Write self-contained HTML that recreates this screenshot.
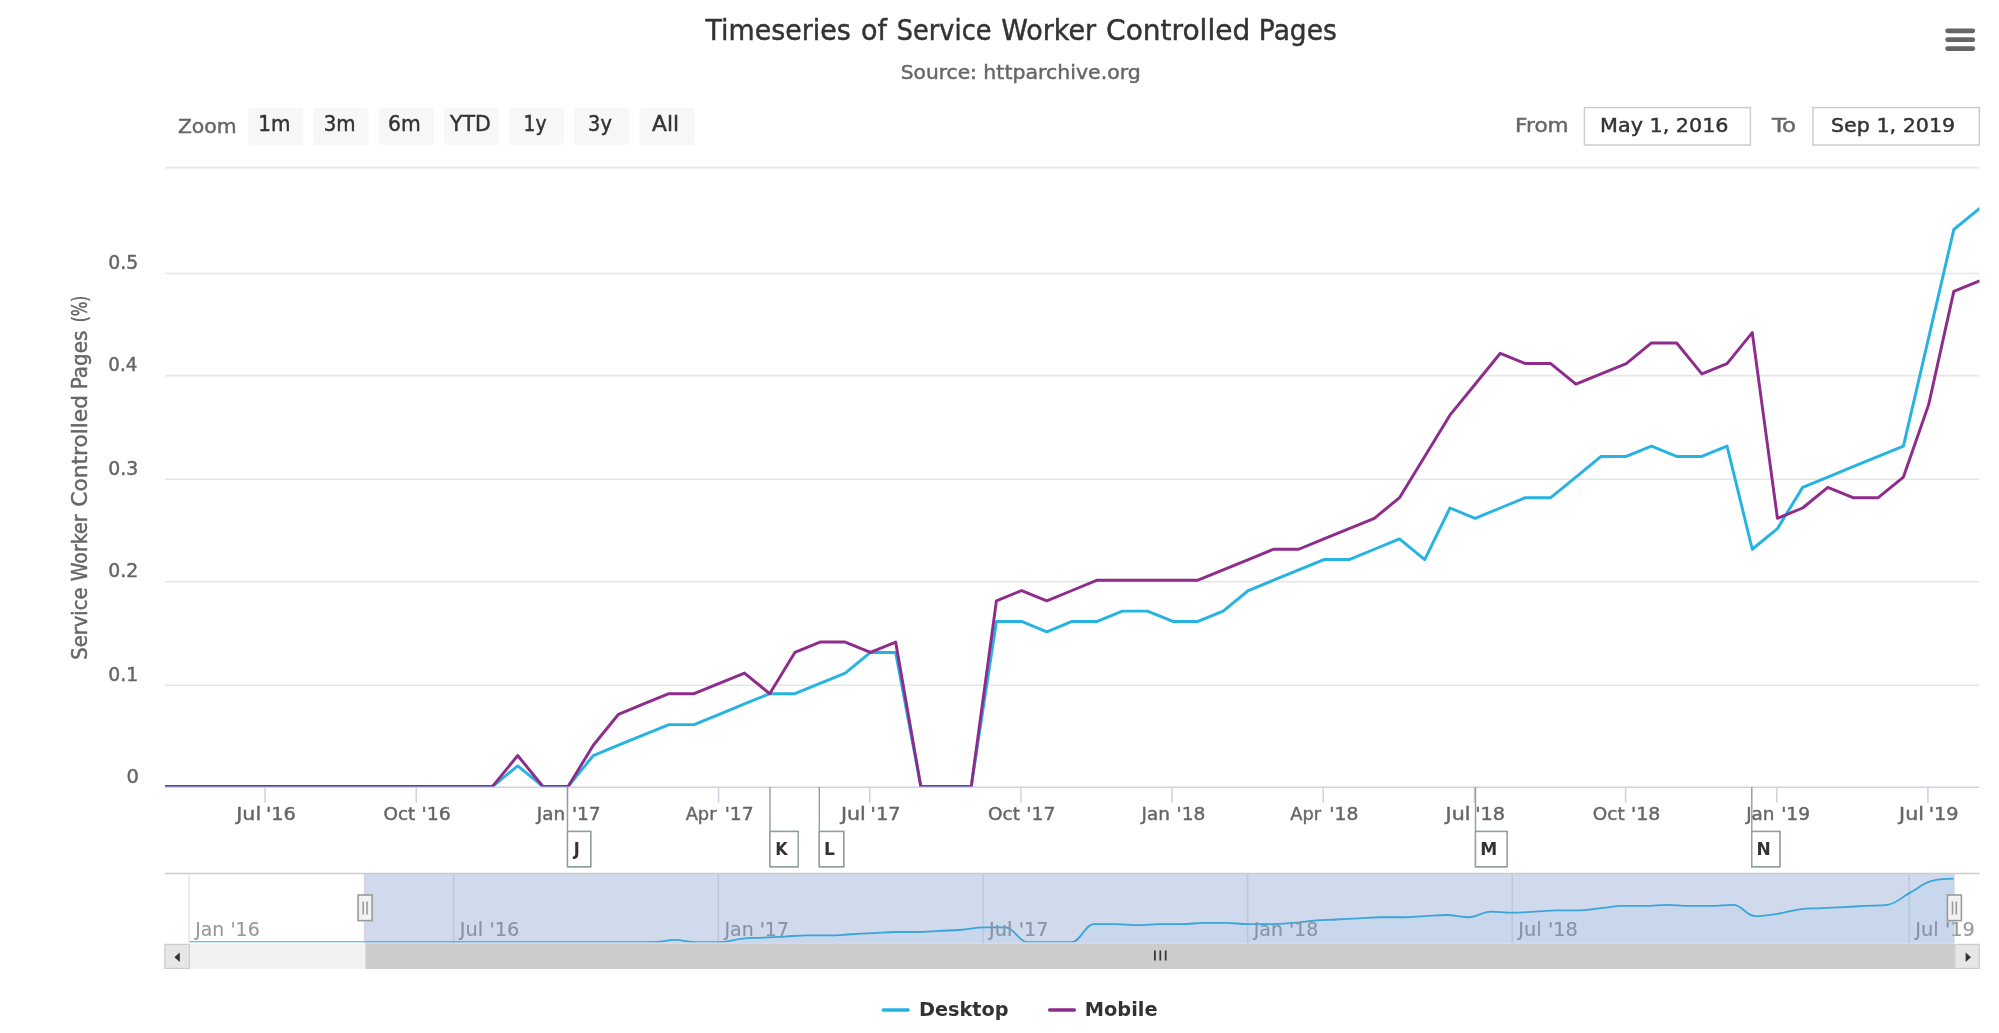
<!DOCTYPE html>
<html lang="en"><head><meta charset="utf-8"><title>Timeseries of Service Worker Controlled Pages</title>
<style>html,body{margin:0;padding:0;background:#fff}body{width:1999px;height:1033px;overflow:hidden}text{white-space:pre}svg{will-change:transform}</style>
</head><body>
<svg width="1999" height="1033" viewBox="0 0 1999 1033" style="display:block;font-family:'DejaVu Sans','Liberation Sans',sans-serif">
<rect x="0" y="0" width="1999" height="1033" fill="#fff"/>
<rect x="248.3" y="107.9" width="55" height="37.2" rx="3" ry="3" fill="#f7f7f7"/>
<rect x="313.5" y="107.9" width="55" height="37.2" rx="3" ry="3" fill="#f7f7f7"/>
<rect x="378.7" y="107.9" width="55" height="37.2" rx="3" ry="3" fill="#f7f7f7"/>
<rect x="443.9" y="107.9" width="55" height="37.2" rx="3" ry="3" fill="#f7f7f7"/>
<rect x="509.1" y="107.9" width="55" height="37.2" rx="3" ry="3" fill="#f7f7f7"/>
<rect x="574.3" y="107.9" width="55" height="37.2" rx="3" ry="3" fill="#f7f7f7"/>
<rect x="639.5" y="107.9" width="55" height="37.2" rx="3" ry="3" fill="#f7f7f7"/>
<rect x="1584.4" y="107.6" width="166" height="37.4" fill="#fff" stroke="#ccc" stroke-width="1.5"/>
<rect x="1812.9" y="107.6" width="166.4" height="37.4" fill="#fff" stroke="#ccc" stroke-width="1.5"/>
<line x1="1947.6" y1="30.8" x2="1972.8" y2="30.8" stroke="#666" stroke-width="4.7" stroke-linecap="round"/>
<line x1="1947.6" y1="39.7" x2="1972.8" y2="39.7" stroke="#666" stroke-width="4.7" stroke-linecap="round"/>
<line x1="1947.6" y1="48.6" x2="1972.8" y2="48.6" stroke="#666" stroke-width="4.7" stroke-linecap="round"/>
<line x1="165.0" y1="167.6" x2="1979.3" y2="167.6" stroke="#e6e6e6" stroke-width="1.55"/>
<line x1="165.0" y1="273.55" x2="1979.3" y2="273.55" stroke="#e6e6e6" stroke-width="1.55"/>
<line x1="165.0" y1="375.6" x2="1979.3" y2="375.6" stroke="#e6e6e6" stroke-width="1.55"/>
<line x1="165.0" y1="479.3" x2="1979.3" y2="479.3" stroke="#e6e6e6" stroke-width="1.55"/>
<line x1="165.0" y1="581.7" x2="1979.3" y2="581.7" stroke="#e6e6e6" stroke-width="1.55"/>
<line x1="165.0" y1="685.3" x2="1979.3" y2="685.3" stroke="#e6e6e6" stroke-width="1.55"/>
<line x1="165.0" y1="787.2" x2="1979.3" y2="787.2" stroke="#cdd3e0" stroke-width="1.55"/>
<line x1="265.08" y1="787" x2="265.08" y2="802.8" stroke="#cdd3e0" stroke-width="1.55"/>
<line x1="416.24" y1="787" x2="416.24" y2="802.8" stroke="#cdd3e0" stroke-width="1.55"/>
<line x1="567.41" y1="787" x2="567.41" y2="802.8" stroke="#cdd3e0" stroke-width="1.55"/>
<line x1="718.58" y1="787" x2="718.58" y2="802.8" stroke="#cdd3e0" stroke-width="1.55"/>
<line x1="869.74" y1="787" x2="869.74" y2="802.8" stroke="#cdd3e0" stroke-width="1.55"/>
<line x1="1020.91" y1="787" x2="1020.91" y2="802.8" stroke="#cdd3e0" stroke-width="1.55"/>
<line x1="1172.08" y1="787" x2="1172.08" y2="802.8" stroke="#cdd3e0" stroke-width="1.55"/>
<line x1="1323.24" y1="787" x2="1323.24" y2="802.8" stroke="#cdd3e0" stroke-width="1.55"/>
<line x1="1474.41" y1="787" x2="1474.41" y2="802.8" stroke="#cdd3e0" stroke-width="1.55"/>
<line x1="1625.58" y1="787" x2="1625.58" y2="802.8" stroke="#cdd3e0" stroke-width="1.55"/>
<line x1="1776.74" y1="787" x2="1776.74" y2="802.8" stroke="#cdd3e0" stroke-width="1.55"/>
<line x1="1927.91" y1="787" x2="1927.91" y2="802.8" stroke="#cdd3e0" stroke-width="1.55"/>
<path d="M567.5 787 V831.5 M567.5 831.5 H590.7 V866.7 H567.5 Z" fill="none" stroke="#8f9da5" stroke-width="1.4"/>
<rect x="567.5" y="831.5" width="23.2" height="35.2" fill="#fff" stroke="#8f9da5" stroke-width="1.4"/>
<path d="M770.0 787 V831.5 M770.0 831.5 H798.2 V866.7 H770.0 Z" fill="none" stroke="#8f9da5" stroke-width="1.4"/>
<rect x="770.0" y="831.5" width="28.2" height="35.2" fill="#fff" stroke="#8f9da5" stroke-width="1.4"/>
<path d="M819.3 787 V831.5 M819.3 831.5 H843.7 V866.7 H819.3 Z" fill="none" stroke="#8f9da5" stroke-width="1.4"/>
<rect x="819.3" y="831.5" width="24.4" height="35.2" fill="#fff" stroke="#8f9da5" stroke-width="1.4"/>
<path d="M1475.5 787 V831.5 M1475.5 831.5 H1507.1 V866.7 H1475.5 Z" fill="none" stroke="#8f9da5" stroke-width="1.4"/>
<rect x="1475.5" y="831.5" width="31.6" height="35.2" fill="#fff" stroke="#8f9da5" stroke-width="1.4"/>
<path d="M1751.8 787 V831.5 M1751.8 831.5 H1779.9 V866.7 H1751.8 Z" fill="none" stroke="#8f9da5" stroke-width="1.4"/>
<rect x="1751.8" y="831.5" width="28.1" height="35.2" fill="#fff" stroke="#8f9da5" stroke-width="1.4"/>
<clipPath id="pc"><rect x="165.0" y="160" width="1814.5" height="626.5"/></clipPath>
<g clip-path="url(#pc)" fill="none" stroke-width="2.95" stroke-linejoin="round" stroke-linecap="round">
<path d="M165.00 786.50 L190.19 786.50 L215.39 786.50 L240.58 786.50 L265.78 786.50 L290.97 786.50 L316.17 786.50 L341.36 786.50 L366.56 786.50 L391.75 786.50 L416.94 786.50 L442.14 786.50 L467.33 786.50 L492.53 786.50 L517.72 765.87 L542.92 786.50 L568.11 786.50 L593.31 755.55 L618.50 745.24 L643.69 734.92 L668.89 724.61 L694.08 724.61 L719.28 714.29 L744.47 703.98 L769.67 693.66 L794.86 693.66 L820.06 683.35 L845.25 673.03 L870.44 652.40 L895.64 652.40 L920.83 786.50 L946.03 786.50 L971.22 786.50 L996.42 621.46 L1021.61 621.46 L1046.81 631.77 L1072.00 621.46 L1097.19 621.46 L1122.39 611.14 L1147.58 611.14 L1172.78 621.46 L1197.97 621.46 L1223.17 611.14 L1248.36 590.51 L1273.56 580.20 L1298.75 569.88 L1323.94 559.57 L1349.14 559.57 L1374.33 549.25 L1399.53 538.94 L1424.72 559.57 L1449.92 508.00 L1475.11 518.31 L1500.31 508.00 L1525.50 497.68 L1550.69 497.68 L1575.89 477.05 L1601.08 456.42 L1626.28 456.42 L1651.47 446.10 L1676.67 456.42 L1701.86 456.42 L1727.06 446.10 L1752.25 549.25 L1777.44 528.62 L1802.64 487.37 L1827.83 477.05 L1853.03 466.74 L1878.22 456.42 L1903.42 446.10 L1928.61 337.80 L1953.81 229.49 L1979.00 208.86" stroke="#27b3e2"/>
<path d="M165.00 786.50 L190.19 786.50 L215.39 786.50 L240.58 786.50 L265.78 786.50 L290.97 786.50 L316.17 786.50 L341.36 786.50 L366.56 786.50 L391.75 786.50 L416.94 786.50 L442.14 786.50 L467.33 786.50 L492.53 786.50 L517.72 755.55 L542.92 786.50 L568.11 786.50 L593.31 745.24 L618.50 714.29 L643.69 703.98 L668.89 693.66 L694.08 693.66 L719.28 683.35 L744.47 673.03 L769.67 693.66 L794.86 652.40 L820.06 642.09 L845.25 642.09 L870.44 652.40 L895.64 642.09 L920.83 786.50 L946.03 786.50 L971.22 786.50 L996.42 600.83 L1021.61 590.51 L1046.81 600.83 L1072.00 590.51 L1097.19 580.20 L1122.39 580.20 L1147.58 580.20 L1172.78 580.20 L1197.97 580.20 L1223.17 569.88 L1248.36 559.57 L1273.56 549.25 L1298.75 549.25 L1323.94 538.94 L1349.14 528.62 L1374.33 518.31 L1399.53 497.68 L1424.72 456.42 L1449.92 415.16 L1475.11 384.21 L1500.31 353.27 L1525.50 363.59 L1550.69 363.59 L1575.89 384.21 L1601.08 373.90 L1626.28 363.59 L1651.47 342.95 L1676.67 342.95 L1701.86 373.90 L1727.06 363.59 L1752.25 332.64 L1777.44 518.31 L1802.64 508.00 L1827.83 487.37 L1853.03 497.68 L1878.22 497.68 L1903.42 477.05 L1928.61 404.85 L1953.81 291.38 L1979.00 281.06" stroke="#8e2c8c"/>
</g>
<line x1="189.10" y1="873.4" x2="189.10" y2="943.2" stroke="#e6e6e6" stroke-width="1.55"/>
<line x1="453.73" y1="873.4" x2="453.73" y2="943.2" stroke="#e6e6e6" stroke-width="1.55"/>
<line x1="718.36" y1="873.4" x2="718.36" y2="943.2" stroke="#e6e6e6" stroke-width="1.55"/>
<line x1="982.99" y1="873.4" x2="982.99" y2="943.2" stroke="#e6e6e6" stroke-width="1.55"/>
<line x1="1247.62" y1="873.4" x2="1247.62" y2="943.2" stroke="#e6e6e6" stroke-width="1.55"/>
<line x1="1512.25" y1="873.4" x2="1512.25" y2="943.2" stroke="#e6e6e6" stroke-width="1.55"/>
<line x1="1909.20" y1="873.4" x2="1909.20" y2="943.2" stroke="#e6e6e6" stroke-width="1.55"/>
<path d="M189.60 942.20 C189.60 942.20 202.83 942.20 211.65 942.20 C220.47 942.20 224.88 942.20 233.70 942.20 C242.53 942.20 246.94 942.20 255.76 942.20 C264.58 942.20 268.99 942.20 277.81 942.20 C286.63 942.20 291.04 942.20 299.86 942.20 C308.68 942.20 313.09 942.20 321.91 942.20 C330.74 942.20 335.15 942.20 343.97 942.20 C352.79 942.20 357.20 942.20 366.02 942.20 C374.84 942.20 379.25 942.20 388.07 942.20 C396.89 942.20 401.30 942.20 410.12 942.20 C418.95 942.20 423.36 942.20 432.18 942.20 C441.00 942.20 445.41 942.20 454.23 942.20 C463.05 942.20 467.46 942.20 476.28 942.20 C485.10 942.20 489.51 942.20 498.34 942.20 C507.16 942.20 511.57 942.20 520.39 942.20 C529.21 942.20 533.62 942.20 542.44 942.20 C551.26 942.20 555.67 942.20 564.49 942.20 C573.31 942.20 577.72 942.20 586.55 942.20 C595.37 942.20 599.78 942.20 608.60 942.20 C617.42 942.20 621.83 942.20 630.65 942.20 C639.47 942.20 643.88 942.20 652.70 942.20 C661.52 942.20 665.93 939.93 674.75 939.93 C683.58 939.93 687.99 942.20 696.81 942.20 C705.63 942.20 710.04 942.20 718.86 942.20 C727.68 942.20 732.09 939.71 740.91 938.80 C749.73 937.89 754.14 938.12 762.97 937.66 C771.79 937.21 776.20 936.98 785.02 936.53 C793.84 936.08 798.25 935.40 807.07 935.40 C815.89 935.40 820.30 935.40 829.12 935.40 C837.94 935.40 842.35 934.72 851.18 934.26 C860.00 933.81 864.41 933.58 873.23 933.13 C882.05 932.67 886.46 931.99 895.28 931.99 C904.10 931.99 908.51 931.99 917.33 931.99 C926.15 931.99 930.56 931.31 939.39 930.86 C948.21 930.41 952.62 930.41 961.44 929.73 C970.26 929.05 974.67 927.46 983.49 927.46 C992.31 927.46 996.72 927.46 1005.54 927.46 C1014.36 927.46 1018.77 942.20 1027.60 942.20 C1036.42 942.20 1040.83 942.20 1049.65 942.20 C1058.47 942.20 1062.88 942.20 1071.70 942.20 C1080.52 942.20 1084.93 924.06 1093.75 924.06 C1102.57 924.06 1106.98 924.06 1115.81 924.06 C1124.63 924.06 1129.04 925.19 1137.86 925.19 C1146.68 925.19 1151.09 924.06 1159.91 924.06 C1168.73 924.06 1173.14 924.06 1181.96 924.06 C1190.78 924.06 1195.19 922.92 1204.02 922.92 C1212.84 922.92 1217.25 922.92 1226.07 922.92 C1234.89 922.92 1239.30 924.06 1248.12 924.06 C1256.94 924.06 1261.35 924.06 1270.17 924.06 C1278.99 924.06 1283.40 923.60 1292.22 922.92 C1301.05 922.24 1305.46 921.33 1314.28 920.65 C1323.10 919.97 1327.51 919.97 1336.33 919.52 C1345.15 919.07 1349.56 918.84 1358.38 918.39 C1367.20 917.93 1371.61 917.25 1380.43 917.25 C1389.26 917.25 1393.67 917.25 1402.49 917.25 C1411.31 917.25 1415.72 916.57 1424.54 916.12 C1433.36 915.66 1437.77 914.98 1446.59 914.98 C1455.41 914.98 1459.82 917.25 1468.64 917.25 C1477.47 917.25 1481.88 911.58 1490.70 911.58 C1499.52 911.58 1503.93 912.72 1512.75 912.72 C1521.57 912.72 1525.98 912.04 1534.80 911.58 C1543.62 911.13 1548.03 910.45 1556.86 910.45 C1565.68 910.45 1570.09 910.45 1578.91 910.45 C1587.73 910.45 1592.14 909.09 1600.96 908.18 C1609.78 907.27 1614.19 905.91 1623.01 905.91 C1631.83 905.91 1636.24 905.91 1645.07 905.91 C1653.89 905.91 1658.30 904.78 1667.12 904.78 C1675.94 904.78 1680.35 905.91 1689.17 905.91 C1697.99 905.91 1702.40 905.91 1711.22 905.91 C1720.04 905.91 1724.45 904.78 1733.28 904.78 C1742.10 904.78 1746.51 916.12 1755.33 916.12 C1764.15 916.12 1768.56 915.21 1777.38 913.85 C1786.20 912.49 1790.61 910.45 1799.43 909.31 C1808.25 908.18 1812.66 908.63 1821.49 908.18 C1830.31 907.73 1834.72 907.50 1843.54 907.05 C1852.36 906.59 1856.77 906.37 1865.59 905.91 C1874.41 905.46 1878.82 905.91 1887.64 904.78 C1896.46 903.64 1900.87 897.63 1909.70 892.87 C1918.52 888.11 1922.93 883.23 1931.75 880.96 C1940.57 878.70 1953.80 878.70 1953.80 878.70 L1953.80 942.2 L189.60 942.2 Z" fill="#27b3e2" fill-opacity="0.06"/>
<clipPath id="nc"><rect x="187.6" y="873.4" width="1768.2" height="68.85000000000007"/></clipPath>
<path d="M189.60 942.20 C189.60 942.20 202.83 942.20 211.65 942.20 C220.47 942.20 224.88 942.20 233.70 942.20 C242.53 942.20 246.94 942.20 255.76 942.20 C264.58 942.20 268.99 942.20 277.81 942.20 C286.63 942.20 291.04 942.20 299.86 942.20 C308.68 942.20 313.09 942.20 321.91 942.20 C330.74 942.20 335.15 942.20 343.97 942.20 C352.79 942.20 357.20 942.20 366.02 942.20 C374.84 942.20 379.25 942.20 388.07 942.20 C396.89 942.20 401.30 942.20 410.12 942.20 C418.95 942.20 423.36 942.20 432.18 942.20 C441.00 942.20 445.41 942.20 454.23 942.20 C463.05 942.20 467.46 942.20 476.28 942.20 C485.10 942.20 489.51 942.20 498.34 942.20 C507.16 942.20 511.57 942.20 520.39 942.20 C529.21 942.20 533.62 942.20 542.44 942.20 C551.26 942.20 555.67 942.20 564.49 942.20 C573.31 942.20 577.72 942.20 586.55 942.20 C595.37 942.20 599.78 942.20 608.60 942.20 C617.42 942.20 621.83 942.20 630.65 942.20 C639.47 942.20 643.88 942.20 652.70 942.20 C661.52 942.20 665.93 939.93 674.75 939.93 C683.58 939.93 687.99 942.20 696.81 942.20 C705.63 942.20 710.04 942.20 718.86 942.20 C727.68 942.20 732.09 939.71 740.91 938.80 C749.73 937.89 754.14 938.12 762.97 937.66 C771.79 937.21 776.20 936.98 785.02 936.53 C793.84 936.08 798.25 935.40 807.07 935.40 C815.89 935.40 820.30 935.40 829.12 935.40 C837.94 935.40 842.35 934.72 851.18 934.26 C860.00 933.81 864.41 933.58 873.23 933.13 C882.05 932.67 886.46 931.99 895.28 931.99 C904.10 931.99 908.51 931.99 917.33 931.99 C926.15 931.99 930.56 931.31 939.39 930.86 C948.21 930.41 952.62 930.41 961.44 929.73 C970.26 929.05 974.67 927.46 983.49 927.46 C992.31 927.46 996.72 927.46 1005.54 927.46 C1014.36 927.46 1018.77 942.20 1027.60 942.20 C1036.42 942.20 1040.83 942.20 1049.65 942.20 C1058.47 942.20 1062.88 942.20 1071.70 942.20 C1080.52 942.20 1084.93 924.06 1093.75 924.06 C1102.57 924.06 1106.98 924.06 1115.81 924.06 C1124.63 924.06 1129.04 925.19 1137.86 925.19 C1146.68 925.19 1151.09 924.06 1159.91 924.06 C1168.73 924.06 1173.14 924.06 1181.96 924.06 C1190.78 924.06 1195.19 922.92 1204.02 922.92 C1212.84 922.92 1217.25 922.92 1226.07 922.92 C1234.89 922.92 1239.30 924.06 1248.12 924.06 C1256.94 924.06 1261.35 924.06 1270.17 924.06 C1278.99 924.06 1283.40 923.60 1292.22 922.92 C1301.05 922.24 1305.46 921.33 1314.28 920.65 C1323.10 919.97 1327.51 919.97 1336.33 919.52 C1345.15 919.07 1349.56 918.84 1358.38 918.39 C1367.20 917.93 1371.61 917.25 1380.43 917.25 C1389.26 917.25 1393.67 917.25 1402.49 917.25 C1411.31 917.25 1415.72 916.57 1424.54 916.12 C1433.36 915.66 1437.77 914.98 1446.59 914.98 C1455.41 914.98 1459.82 917.25 1468.64 917.25 C1477.47 917.25 1481.88 911.58 1490.70 911.58 C1499.52 911.58 1503.93 912.72 1512.75 912.72 C1521.57 912.72 1525.98 912.04 1534.80 911.58 C1543.62 911.13 1548.03 910.45 1556.86 910.45 C1565.68 910.45 1570.09 910.45 1578.91 910.45 C1587.73 910.45 1592.14 909.09 1600.96 908.18 C1609.78 907.27 1614.19 905.91 1623.01 905.91 C1631.83 905.91 1636.24 905.91 1645.07 905.91 C1653.89 905.91 1658.30 904.78 1667.12 904.78 C1675.94 904.78 1680.35 905.91 1689.17 905.91 C1697.99 905.91 1702.40 905.91 1711.22 905.91 C1720.04 905.91 1724.45 904.78 1733.28 904.78 C1742.10 904.78 1746.51 916.12 1755.33 916.12 C1764.15 916.12 1768.56 915.21 1777.38 913.85 C1786.20 912.49 1790.61 910.45 1799.43 909.31 C1808.25 908.18 1812.66 908.63 1821.49 908.18 C1830.31 907.73 1834.72 907.50 1843.54 907.05 C1852.36 906.59 1856.77 906.37 1865.59 905.91 C1874.41 905.46 1878.82 905.91 1887.64 904.78 C1896.46 903.64 1900.87 897.63 1909.70 892.87 C1918.52 888.11 1922.93 883.23 1931.75 880.96 C1940.57 878.70 1953.80 878.70 1953.80 878.70" fill="none" stroke="#27b3e2" stroke-width="1.8" clip-path="url(#nc)"/>
<text transform="translate(0,935.80)" font-size="19" fill="#999" stroke="#999" stroke-width="0.15"><tspan x="195.20" textLength="64.49" lengthAdjust="spacingAndGlyphs">Jan &#39;16</tspan></text>
<text transform="translate(0,935.80)" font-size="19" fill="#999" stroke="#999" stroke-width="0.15"><tspan x="459.85" textLength="59.59" lengthAdjust="spacingAndGlyphs">Jul &#39;16</tspan></text>
<text transform="translate(0,935.80)" font-size="19" fill="#999" stroke="#999" stroke-width="0.15"><tspan x="724.46" textLength="64.49" lengthAdjust="spacingAndGlyphs">Jan &#39;17</tspan></text>
<text transform="translate(0,935.80)" font-size="19" fill="#999" stroke="#999" stroke-width="0.15"><tspan x="989.11" textLength="59.59" lengthAdjust="spacingAndGlyphs">Jul &#39;17</tspan></text>
<text transform="translate(0,935.80)" font-size="19" fill="#999" stroke="#999" stroke-width="0.15"><tspan x="1253.72" textLength="64.49" lengthAdjust="spacingAndGlyphs">Jan &#39;18</tspan></text>
<text transform="translate(0,935.80)" font-size="19" fill="#999" stroke="#999" stroke-width="0.15"><tspan x="1518.37" textLength="59.59" lengthAdjust="spacingAndGlyphs">Jul &#39;18</tspan></text>
<text transform="translate(0,935.80)" font-size="19" fill="#999" stroke="#999" stroke-width="0.15"><tspan x="1915.32" textLength="59.59" lengthAdjust="spacingAndGlyphs">Jul &#39;19</tspan></text>
<rect x="364.4" y="873.4" width="1589.8000000000002" height="70.60000000000007" fill="rgb(102,133,194)" fill-opacity="0.3"/>
<path d="M164.7 873.4 H1979.5" stroke="#ccc" stroke-width="1.55" fill="none"/>
<path d="M364.4 873.4 V943.2 M1954.2 873.4 V943.2" stroke="#ccc" stroke-width="1.2" fill="none" opacity="0.6"/>
<text transform="translate(0,40.00)" font-size="27.5" fill="#333" stroke="#333" stroke-width="0.45"><tspan x="705.48" textLength="145.22" lengthAdjust="spacingAndGlyphs">Timeseries</tspan> <tspan x="861.12" textLength="25.99" lengthAdjust="spacingAndGlyphs">of</tspan> <tspan x="896.87" textLength="94.59" lengthAdjust="spacingAndGlyphs">Service</tspan> <tspan x="1001.20" textLength="95.02" lengthAdjust="spacingAndGlyphs">Worker</tspan> <tspan x="1106.08" textLength="144.12" lengthAdjust="spacingAndGlyphs">Controlled</tspan> <tspan x="1258.87" textLength="77.90" lengthAdjust="spacingAndGlyphs">Pages</tspan></text>
<text transform="translate(0,78.50)" font-size="20.2" fill="#666" stroke="#666" stroke-width="0.45"><tspan x="900.80" textLength="76.10" lengthAdjust="spacingAndGlyphs">Source:</tspan> <tspan x="983.38" textLength="157.46" lengthAdjust="spacingAndGlyphs">httparchive.org</tspan></text>
<text transform="translate(0,133.10)" font-size="20.2" fill="#666" stroke="#666" stroke-width="0.45"><tspan x="177.90" textLength="58.78" lengthAdjust="spacingAndGlyphs">Zoom</tspan></text>
<text transform="translate(0,131.20)" font-size="20.4" fill="#333" stroke="#333" stroke-width="0.45"><tspan x="258.34" textLength="32.21" lengthAdjust="spacingAndGlyphs">1m</tspan></text>
<text transform="translate(0,131.20)" font-size="20.4" fill="#333" stroke="#333" stroke-width="0.45"><tspan x="323.73" textLength="31.91" lengthAdjust="spacingAndGlyphs">3m</tspan></text>
<text transform="translate(0,131.20)" font-size="20.4" fill="#333" stroke="#333" stroke-width="0.45"><tspan x="388.11" textLength="32.65" lengthAdjust="spacingAndGlyphs">6m</tspan></text>
<text transform="translate(0,131.20)" font-size="20.4" fill="#333" stroke="#333" stroke-width="0.45"><tspan x="449.90" textLength="40.80" lengthAdjust="spacingAndGlyphs">YTD</tspan></text>
<text transform="translate(0,131.20)" font-size="20.4" fill="#333" stroke="#333" stroke-width="0.45"><tspan x="523.45" textLength="23.11" lengthAdjust="spacingAndGlyphs">1y</tspan></text>
<text transform="translate(0,131.20)" font-size="20.4" fill="#333" stroke="#333" stroke-width="0.45"><tspan x="588.05" textLength="23.81" lengthAdjust="spacingAndGlyphs">3y</tspan></text>
<text transform="translate(0,131.20)" font-size="20.4" fill="#333" stroke="#333" stroke-width="0.45"><tspan x="652.00" textLength="26.98" lengthAdjust="spacingAndGlyphs">All</tspan></text>
<text transform="translate(0,132.00)" font-size="20.2" fill="#666" stroke="#666" stroke-width="0.45"><tspan x="1515.13" textLength="53.55" lengthAdjust="spacingAndGlyphs">From</tspan></text>
<text transform="translate(0,132.00)" font-size="20.2" fill="#666" stroke="#666" stroke-width="0.45"><tspan x="1771.94" textLength="24.26" lengthAdjust="spacingAndGlyphs">To</tspan></text>
<text transform="translate(0,132.00)" font-size="20.2" fill="#333" stroke="#333" stroke-width="0.45"><tspan x="1600.07" textLength="128.49" lengthAdjust="spacingAndGlyphs">May 1, 2016</tspan></text>
<text transform="translate(0,132.00)" font-size="20.2" fill="#333" stroke="#333" stroke-width="0.45"><tspan x="1830.98" textLength="124.18" lengthAdjust="spacingAndGlyphs">Sep 1, 2019</tspan></text>
<text transform="translate(0,269.15)" font-size="19" fill="#666" stroke="#666" stroke-width="0.45"><tspan x="108.31" textLength="29.97" lengthAdjust="spacingAndGlyphs">0.5</tspan></text>
<text transform="translate(0,371.20)" font-size="19" fill="#666" stroke="#666" stroke-width="0.45"><tspan x="108.34" textLength="28.94" lengthAdjust="spacingAndGlyphs">0.4</tspan></text>
<text transform="translate(0,474.90)" font-size="19" fill="#666" stroke="#666" stroke-width="0.45"><tspan x="108.31" textLength="29.97" lengthAdjust="spacingAndGlyphs">0.3</tspan></text>
<text transform="translate(0,577.30)" font-size="19" fill="#666" stroke="#666" stroke-width="0.45"><tspan x="108.31" textLength="29.97" lengthAdjust="spacingAndGlyphs">0.2</tspan></text>
<text transform="translate(0,680.90)" font-size="19" fill="#666" stroke="#666" stroke-width="0.45"><tspan x="108.31" textLength="29.97" lengthAdjust="spacingAndGlyphs">0.1</tspan></text>
<text transform="translate(0,783.00)" font-size="19" fill="#666" stroke="#666" stroke-width="0.45"><tspan x="126.47" textLength="12.45" lengthAdjust="spacingAndGlyphs">0</tspan></text>
<text transform="translate(0,819.60)" font-size="18.5" fill="#666" stroke="#666" stroke-width="0.45"><tspan x="236.29" textLength="24.86" lengthAdjust="spacingAndGlyphs">Jul</tspan> <tspan x="265.94" textLength="29.85" lengthAdjust="spacingAndGlyphs">&#39;16</tspan></text>
<text transform="translate(0,819.60)" font-size="18.5" fill="#666" stroke="#666" stroke-width="0.45"><tspan x="383.45" textLength="31.85" lengthAdjust="spacingAndGlyphs">Oct</tspan> <tspan x="421.62" textLength="29.31" lengthAdjust="spacingAndGlyphs">&#39;16</tspan></text>
<text transform="translate(0,819.60)" font-size="18.5" fill="#666" stroke="#666" stroke-width="0.45"><tspan x="536.80" textLength="28.33" lengthAdjust="spacingAndGlyphs">Jan</tspan> <tspan x="571.91" textLength="28.78" lengthAdjust="spacingAndGlyphs">&#39;17</tspan></text>
<text transform="translate(0,819.60)" font-size="18.5" fill="#666" stroke="#666" stroke-width="0.45"><tspan x="685.68" textLength="30.82" lengthAdjust="spacingAndGlyphs">Apr</tspan> <tspan x="724.66" textLength="28.99" lengthAdjust="spacingAndGlyphs">&#39;17</tspan></text>
<text transform="translate(0,819.60)" font-size="18.5" fill="#666" stroke="#666" stroke-width="0.45"><tspan x="840.96" textLength="24.86" lengthAdjust="spacingAndGlyphs">Jul</tspan> <tspan x="870.60" textLength="29.85" lengthAdjust="spacingAndGlyphs">&#39;17</tspan></text>
<text transform="translate(0,819.60)" font-size="18.5" fill="#666" stroke="#666" stroke-width="0.45"><tspan x="988.12" textLength="31.85" lengthAdjust="spacingAndGlyphs">Oct</tspan> <tspan x="1026.29" textLength="29.31" lengthAdjust="spacingAndGlyphs">&#39;17</tspan></text>
<text transform="translate(0,819.60)" font-size="18.5" fill="#666" stroke="#666" stroke-width="0.45"><tspan x="1141.47" textLength="28.33" lengthAdjust="spacingAndGlyphs">Jan</tspan> <tspan x="1176.57" textLength="28.78" lengthAdjust="spacingAndGlyphs">&#39;18</tspan></text>
<text transform="translate(0,819.60)" font-size="18.5" fill="#666" stroke="#666" stroke-width="0.45"><tspan x="1290.34" textLength="30.82" lengthAdjust="spacingAndGlyphs">Apr</tspan> <tspan x="1329.33" textLength="28.99" lengthAdjust="spacingAndGlyphs">&#39;18</tspan></text>
<text transform="translate(0,819.60)" font-size="18.5" fill="#666" stroke="#666" stroke-width="0.45"><tspan x="1445.62" textLength="24.86" lengthAdjust="spacingAndGlyphs">Jul</tspan> <tspan x="1475.27" textLength="29.85" lengthAdjust="spacingAndGlyphs">&#39;18</tspan></text>
<text transform="translate(0,819.60)" font-size="18.5" fill="#666" stroke="#666" stroke-width="0.45"><tspan x="1592.78" textLength="31.85" lengthAdjust="spacingAndGlyphs">Oct</tspan> <tspan x="1630.95" textLength="29.31" lengthAdjust="spacingAndGlyphs">&#39;18</tspan></text>
<text transform="translate(0,819.60)" font-size="18.5" fill="#666" stroke="#666" stroke-width="0.45"><tspan x="1746.14" textLength="28.33" lengthAdjust="spacingAndGlyphs">Jan</tspan> <tspan x="1781.24" textLength="28.78" lengthAdjust="spacingAndGlyphs">&#39;19</tspan></text>
<text transform="translate(0,819.60)" font-size="18.5" fill="#666" stroke="#666" stroke-width="0.45"><tspan x="1899.12" textLength="24.86" lengthAdjust="spacingAndGlyphs">Jul</tspan> <tspan x="1928.77" textLength="29.85" lengthAdjust="spacingAndGlyphs">&#39;19</tspan></text>
<text transform="translate(0,854.60)" font-size="18" fill="#333" font-weight="bold"><tspan x="573.80" textLength="6.03" lengthAdjust="spacingAndGlyphs">J</tspan></text>
<text transform="translate(0,854.60)" font-size="18" fill="#333" font-weight="bold"><tspan x="775.21" textLength="12.45" lengthAdjust="spacingAndGlyphs">K</tspan></text>
<text transform="translate(0,854.60)" font-size="18" fill="#333" font-weight="bold"><tspan x="824.05" textLength="10.90" lengthAdjust="spacingAndGlyphs">L</tspan></text>
<text transform="translate(0,854.60)" font-size="18" fill="#333" font-weight="bold"><tspan x="1480.35" textLength="17.02" lengthAdjust="spacingAndGlyphs">M</tspan></text>
<text transform="translate(0,854.60)" font-size="18" fill="#333" font-weight="bold"><tspan x="1756.55" textLength="14.25" lengthAdjust="spacingAndGlyphs">N</tspan></text>
<text transform="translate(0,1016.20)" font-size="20.2" fill="#333" font-weight="bold"><tspan x="919.05" textLength="89.48" lengthAdjust="spacingAndGlyphs">Desktop</tspan></text>
<text transform="translate(0,1016.20)" font-size="20.2" fill="#333" font-weight="bold"><tspan x="1084.74" textLength="72.82" lengthAdjust="spacingAndGlyphs">Mobile</tspan></text>
<text transform="translate(87.40,660.00) rotate(-90)" font-size="20.4" fill="#666" stroke="#666" stroke-width="0.45"><tspan x="0.34" textLength="72.08" lengthAdjust="spacingAndGlyphs">Service</tspan> <tspan x="78.70" textLength="66.93" lengthAdjust="spacingAndGlyphs">Worker</tspan> <tspan x="153.23" textLength="111.77" lengthAdjust="spacingAndGlyphs">Controlled</tspan> <tspan x="270.64" textLength="58.67" lengthAdjust="spacingAndGlyphs">Pages</tspan> <tspan x="337.65" textLength="26.57" lengthAdjust="spacingAndGlyphs">(%)</tspan></text>
<rect x="164.7" y="943.9" width="1814.6" height="25.0" fill="#f2f2f2"/>
<rect x="365.4" y="943.9" width="1588.8000000000002" height="25.0" fill="#ccc"/>
<rect x="164.8" y="944.4" width="24.6" height="24.0" fill="#e6e6e6" stroke="#ccc" stroke-width="1.2"/>
<rect x="1954.8" y="944.4" width="24.4" height="24.0" fill="#e6e6e6" stroke="#ccc" stroke-width="1.2"/>
<path d="M179.8 952.6 V962 L174.4 957.3 Z" fill="#333"/>
<path d="M1965.6 952.6 V962 L1971 957.3 Z" fill="#333"/>
<path d="M1154.9 950.4 V960.5 M1160.3 950.4 V960.5 M1165.7 950.4 V960.5" stroke="#333" stroke-width="1.7" fill="none"/>
<line x1="883.2" y1="1010" x2="908.2" y2="1010" stroke="#27b3e2" stroke-width="3.4" stroke-linecap="round"/>
<line x1="1049.6" y1="1010" x2="1074.4" y2="1010" stroke="#8e2c8c" stroke-width="3.4" stroke-linecap="round"/>
<rect x="358.1" y="895" width="14" height="25.6" fill="#f2f2f2" stroke="#999" stroke-width="1.55"/>
<path d="M363.2 901.6 V914.4 M367.0 901.6 V914.4" stroke="#999" stroke-width="1.55" fill="none"/>
<rect x="1947.4" y="895" width="14" height="25.6" fill="#f2f2f2" stroke="#999" stroke-width="1.55"/>
<path d="M1952.5 901.6 V914.4 M1956.3 901.6 V914.4" stroke="#999" stroke-width="1.55" fill="none"/>
</svg>
</body></html>
